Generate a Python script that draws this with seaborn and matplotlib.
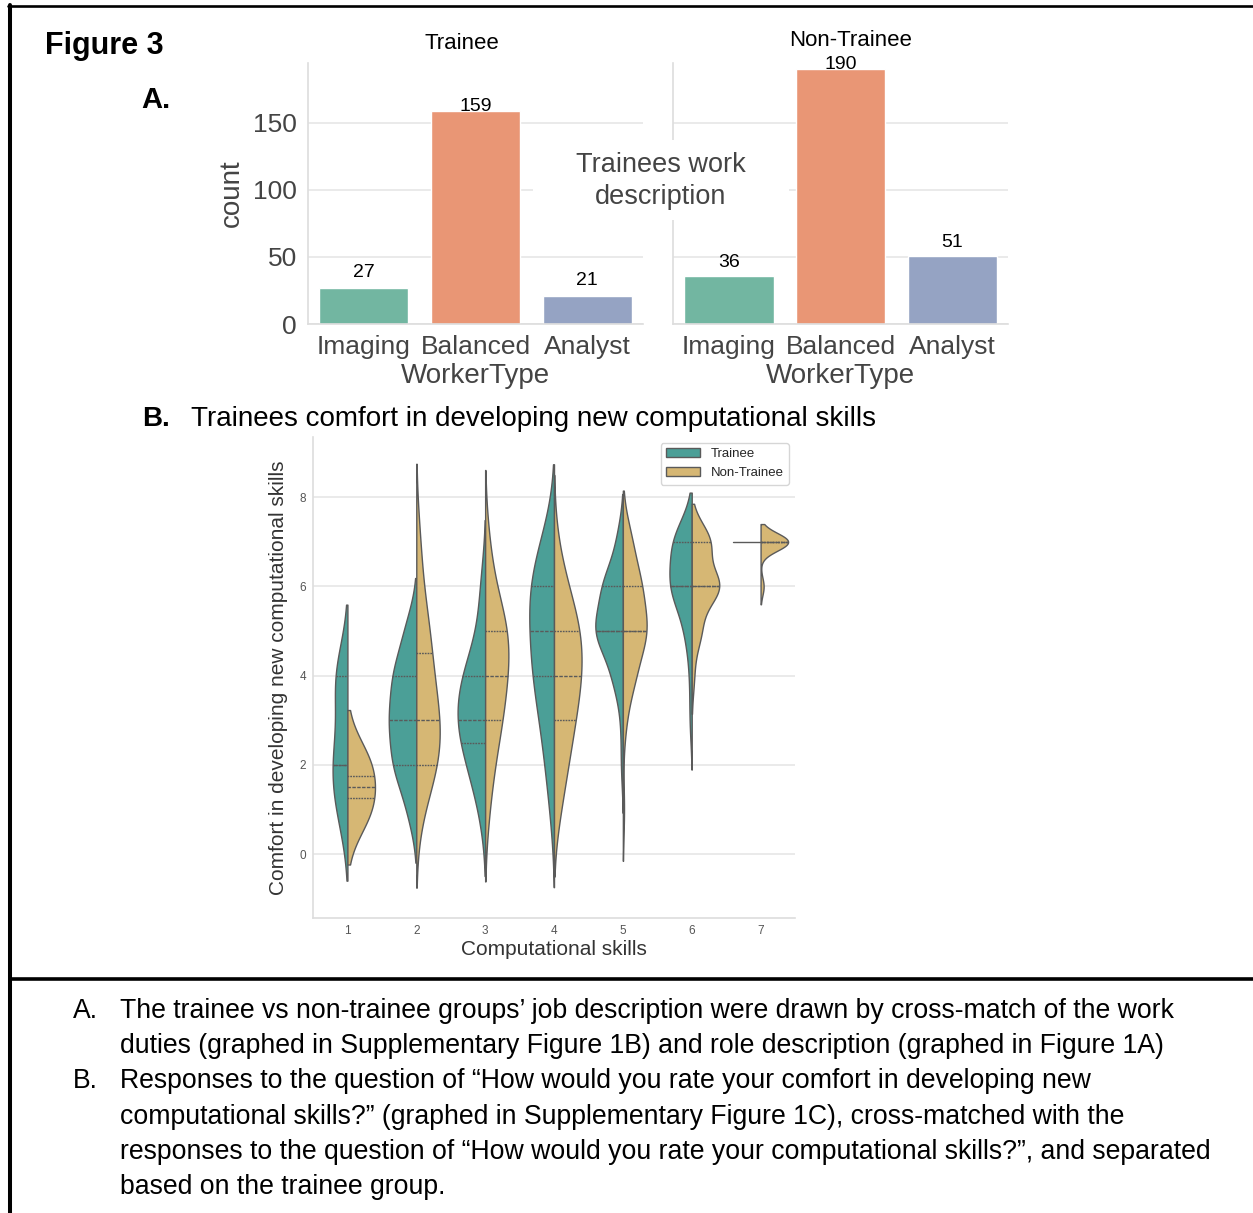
import numpy as np
import pandas as pd
import matplotlib
matplotlib.use("Agg")
import matplotlib.pyplot as plt
from matplotlib.lines import Line2D
from matplotlib.patches import Rectangle
import seaborn as sns

# ---------------- data ----------------
worker_types = ["Imaging", "Balanced", "Analyst"]
trainee_worker_counts = [27, 159, 21]
nontrainee_worker_counts = [36, 190, 51]

groups = ["Trainee", "Non-Trainee"]
skill_levels = [1, 2, 3, 4, 5, 6, 7]
comfort_levels = [1, 2, 3, 4, 5, 6, 7]

# number of responses at each comfort level (1..7), per computational-skill level
trainee_skill1 = [2, 3, 1, 3, 0, 0, 0]
trainee_skill2 = [3, 8, 9, 8, 4, 0, 0]
trainee_skill3 = [1, 3, 5, 4, 1, 1, 0]
trainee_skill4 = [1, 2, 3, 5, 5, 6, 3]
trainee_skill5 = [0, 1, 1, 5, 14, 10, 3]
trainee_skill6 = [0, 0, 1, 1, 3, 10, 9]
trainee_skill7 = [0, 0, 0, 0, 0, 0, 1]

nontrainee_skill1 = [1, 1, 0, 0, 0, 0, 0]
nontrainee_skill2 = [1, 5, 5, 3, 3, 1, 1]
nontrainee_skill3 = [1, 2, 4, 5, 6, 2, 1]
nontrainee_skill4 = [2, 4, 6, 8, 8, 4, 1]
nontrainee_skill5 = [1, 0, 2, 8, 16, 12, 6]
nontrainee_skill6 = [0, 0, 0, 1, 4, 12, 8]
nontrainee_skill7 = [0, 0, 0, 0, 0, 1, 9]

trainee_by_skill = [trainee_skill1, trainee_skill2, trainee_skill3, trainee_skill4,
                    trainee_skill5, trainee_skill6, trainee_skill7]
nontrainee_by_skill = [nontrainee_skill1, nontrainee_skill2, nontrainee_skill3,
                       nontrainee_skill4, nontrainee_skill5, nontrainee_skill6,
                       nontrainee_skill7]

caption_lines = [
    ("A.", "The trainee vs non-trainee groups\u2019 job description were drawn by cross-match of the work"),
    ("", "duties (graphed in Supplementary Figure 1B) and role description (graphed in Figure 1A)"),
    ("B.", "Responses to the question of \u201cHow would you rate your comfort in developing new"),
    ("", "computational skills?\u201d (graphed in Supplementary Figure 1C), cross-matched with the"),
    ("", "responses to the question of \u201cHow would you rate your computational skills?\u201d, and separated"),
    ("", "based on the trainee group."),
]

# ---------------- style ----------------
sns.set_theme(style="whitegrid")
plt.rcParams["font.family"] = ["Liberation Sans", "DejaVu Sans"]

W, H = 1253, 1213
fig = plt.figure(figsize=(W / 100, H / 100), dpi=100)


def fx(px):
    return px / W


def fy(py):
    return 1 - py / H


GRID = "#e6e6e6"
SPINE = "#dddddd"
TICKC = "#444444"

# ---------------- Part A: bar charts ----------------
bar_h = 261.3
ax1 = fig.add_axes([fx(308), fy(324), 335 / W, bar_h / H])
ax2 = fig.add_axes([fx(673), fy(324), 335 / W, bar_h / H], sharey=ax1)

for ax, counts, title, tx, pad, short_pad in [
    (ax1, trainee_worker_counts, "Trainee", 0.46, 10, 4.6),
    (ax2, nontrainee_worker_counts, "Non-Trainee", 0.531, 12, 3.3),
]:
    df = pd.DataFrame({"WorkerType": worker_types, "count": counts})
    sns.barplot(data=df, x="WorkerType", y="count", hue="WorkerType",
                order=worker_types, hue_order=worker_types, palette="Set2",
                legend=False, width=0.8, ax=ax)
    for cont in ax.containers:
        h = cont.datavalues[0]
        ax.bar_label(cont, padding=-2.6 if h > 100 else short_pad,
                     fontsize=14, color="black")
    ax.set_title(title, fontsize=16, color="black", x=tx, pad=pad)
    ax.set_ylim(0, 195)
    ax.set_yticks([0, 50, 100, 150])
    ax.tick_params(axis="both", labelsize=19, colors=TICKC, length=0, pad=8)
    ax.set_xlabel("WorkerType", fontsize=20, color=TICKC, labelpad=3)
    ax.grid(axis="y", color=GRID, lw=1.2)
    ax.grid(axis="x", visible=False)
    sns.despine(ax=ax)
    for s in ["left", "bottom"]:
        ax.spines[s].set_color(SPINE)
        ax.spines[s].set_linewidth(1.2)

ax1.set_ylabel("count", fontsize=20, color=TICKC, labelpad=6)
ax2.set_ylabel("")
ax2.tick_params(axis="y", labelleft=False)

# white box with annotation between the two panels
fig.add_artist(Rectangle((fx(533), fy(220)), (789 - 533) / W, 80 / H,
                         transform=fig.transFigure, facecolor="white",
                         edgecolor="none", zorder=5))
fig.text(fx(661), fy(181), "Trainees work\ndescription", ha="center",
         va="center", fontsize=19.5, color="#444444", zorder=6,
         linespacing=1.3)

# ---------------- Part B: split violins ----------------
ax3 = fig.add_axes([fx(313), fy(918), 482 / W, 481 / H])
palette = {"Trainee": "#4b9f97", "Non-Trainee": "#d6b774"}

for i, lvl in enumerate(skill_levels):
    t_vals = np.repeat(comfort_levels, trainee_by_skill[i]).astype(float)
    n_vals = np.repeat(comfort_levels, nontrainee_by_skill[i]).astype(float)
    df = pd.DataFrame({
        "skill": [lvl] * (len(t_vals) + len(n_vals)),
        "comfort": np.concatenate([t_vals, n_vals]),
        "group": ["Trainee"] * len(t_vals) + ["Non-Trainee"] * len(n_vals),
    })
    sns.violinplot(data=df, x="skill", y="comfort", hue="group",
                   order=skill_levels, hue_order=groups, palette=palette,
                   split=True, inner="quart", density_norm="area",
                   common_norm=True, cut=2, bw_method="scott", width=0.8,
                   linewidth=1, linecolor="#5a5a5a", saturation=1,
                   legend=(i == 0), ax=ax3)

ax3.set_ylim(-1.43, 9.35)
ax3.set_yticks([0, 2, 4, 6, 8])
ax3.tick_params(axis="both", labelsize=8.5, colors="#555555", length=0, pad=5)
ax3.set_xlabel("Computational skills", fontsize=15, color="#333333", labelpad=2)
ax3.set_ylabel("Comfort in developing new computational skills", fontsize=15,
               color="#333333", labelpad=8)
ax3.grid(axis="y", color=GRID, lw=1.2)
ax3.grid(axis="x", visible=False)
sns.despine(ax=ax3)
for s in ["left", "bottom"]:
    ax3.spines[s].set_color(SPINE)
    ax3.spines[s].set_linewidth(1.2)
sns.move_legend(ax3, "upper right", title=None, fontsize=9.5, frameon=True,
                handlelength=2.6, borderaxespad=0.45)

# ---------------- headings ----------------
fig.text(fx(45), fy(46), "Figure 3", fontsize=22, fontweight="bold",
         ha="left", va="center", color="black")
fig.text(fx(141), fy(100), "A.", fontsize=21, fontweight="bold",
         ha="left", va="center", color="black")
fig.text(fx(142), fy(419), "B.", fontsize=20, fontweight="bold",
         ha="left", va="center", color="black")
fig.text(fx(191), fy(418.5), "Trainees comfort in developing new computational skills",
         fontsize=20, ha="left", va="center", color="black")

# caption
y0 = 1011
for k, (lab, txt) in enumerate(caption_lines):
    yy = y0 + k * 35.2
    if lab:
        fig.text(fx(73), fy(yy), lab, fontsize=19.2, ha="left", va="center",
                 color="black")
    fig.text(fx(120), fy(yy), txt, fontsize=19.2, ha="left", va="center",
             color="black")

# frame lines
fig.add_artist(Line2D([fx(8), 1.0], [fy(6), fy(6)], transform=fig.transFigure,
                      color="black", lw=1.9))
fig.add_artist(Line2D([fx(10.3), fx(10.3)], [fy(5), 0], transform=fig.transFigure,
                      color="black", lw=2.9))
fig.add_artist(Line2D([fx(10), 1.0], [fy(979), fy(979)], transform=fig.transFigure,
                      color="black", lw=2.6))

fig.savefig("out.png", dpi=100, facecolor="white")
